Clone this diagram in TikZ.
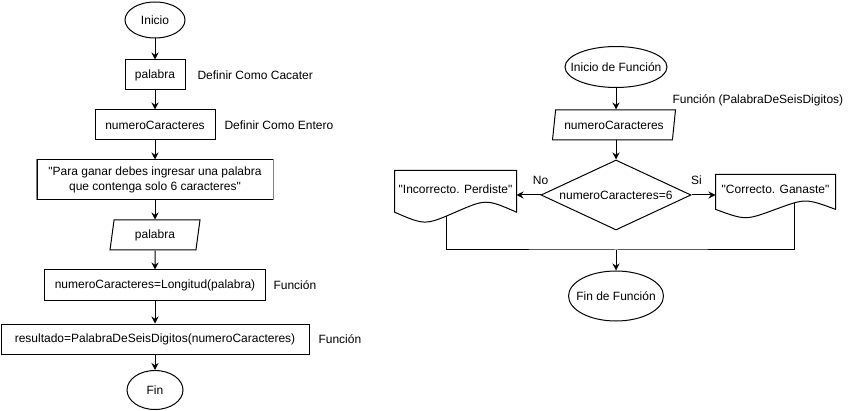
\documentclass[tikz,border=0pt]{standalone}
\usepackage{fontspec}
\setmainfont{Liberation Sans}[Ligatures=TeXOff]
\usetikzlibrary{arrows.meta,shapes.geometric,calc}

% outline of a document symbol drawn round a node, with two points on its wave
\newcommand{\docoutline}[1]{%
  \draw let \p1=(#1.north west), \p2=(#1.south east), \n1={\y1-\y2} in
    (\p1) -- (\x2,\y1) -- (\x2,{\y2+0.15*\n1})
    .. controls ({0.25*\x1+0.75*\x2},{\y2+0.42*\n1}) .. ({0.5*\x1+0.5*\x2},{\y2+0.15*\n1})
    coordinate[pos=0.72] (#1-r)
    .. controls ({0.75*\x1+0.25*\x2},{\y2-0.12*\n1}) .. (\x1,{\y2+0.15*\n1})
    coordinate[pos=0.11] (#1-l)
    -- cycle;}

\begin{document}
\begin{tikzpicture}[x=1pt, y=-1pt, line width=1pt,
  >={Stealth[length=7pt,width=7pt]},
  every node/.style={font=\fontsize{12}{15}\selectfont},
  term/.style={draw, ellipse, inner sep=0pt},
  proc/.style={draw, rectangle, minimum height=30pt, inner sep=3pt},
  io/.style={draw, trapezium, trapezium left angle=70, trapezium right angle=110,
    trapezium stretches body, minimum height=30pt, inner sep=0pt},
  decis/.style={draw, diamond, aspect=2.14, minimum width=150pt, minimum height=70pt, inner sep=0pt},
  doc/.style={rectangle, inner sep=0pt, text depth=12pt},
  note/.style={anchor=west, inner sep=0pt},
  elabel/.style={inner sep=0pt}]
  \useasboundingbox (0,0) rectangle (861,411);

  % main program
  \node[term, minimum width=60pt, minimum height=36pt] (ini) at (155,20) {Inicio};
  \node[proc, minimum width=60pt] (pal) at (155,75) {palabra};
  \node[note] (palnote) at (197,75) {Definir Como Cacater};
  \node[proc, minimum width=120pt] (num) at (155,125) {numeroCaracteres};
  \node[note] (numnote) at (224,125) {Definir Como Entero};
  \node[proc, minimum width=236pt, minimum height=40pt, align=center] (msg) at (155,180)
    {"Para ganar debes ingresar una palabra\\que contenga solo 6 caracteres"};
  \draw[gray, line width=1.5pt] (msg.north west) -- (msg.south west) (msg.north east) -- (msg.south east);
  \node[io, minimum width=90pt] (inp) at (155,235) {palabra};
  \node[proc, minimum width=221pt] (lon) at (155,285) {numeroCaracteres=Longitud(palabra)};
  \node[note] (lonnote) at (273,285) {Función};
  \node[proc, minimum width=308pt] (res) at (155,339) {resultado=PalabraDeSeisDigitos(numeroCaracteres)};
  \node[note] (resnote) at (318,339) {Función};
  \node[term, minimum width=56pt, minimum height=39pt] (fin) at (155,390) {Fin};

  \draw[->] (ini) -- (pal);
  \draw[->] (pal) -- (num);
  \draw[->] (num) -- (msg);
  \draw[->] (msg) -- (inp);
  \draw[->] (inp) -- (lon);
  \draw[->] (lon) -- (res);
  \draw[->] (res) -- (fin);

  % function
  \node[term, minimum width=102pt, minimum height=41pt] (ifun) at (616,67) {\makebox[0pt]{Inicio de Función}};
  \node[note] (funnote) at (672,100) {Función (PalabraDeSeisDigitos)};
  \node[io, minimum width=123pt] (pnum) at (614,125) {numeroCaracteres};
  \node[decis] (dec) at (616,195) {numeroCaracteres=6};
  \node[doc, minimum width=121pt, minimum height=48pt] (inc) at (455.5,195) {"Incorrecto. Perdiste"};
  \node[doc, minimum width=119pt, minimum height=40pt] (cor) at (775.5,195) {"Correcto. Ganaste"};
  \docoutline{inc}
  \docoutline{cor}
  \node[term, minimum width=95pt, minimum height=50pt] (ffun) at (616,296) {\makebox[0pt]{Fin de Función}};
  \coordinate (jn) at (616,250);

  \draw[->] (ifun) -- (ifun |- pnum.north);
  \draw[->] (pnum.south -| dec.north) -- (dec.north);
  \draw[->] (dec) -- node[elabel, at start, above=10pt] (nolab) {No} (inc);
  \draw[->] (dec) -- node[elabel, at start, above=10pt, xshift=5pt] (silab) {Si} (cor);
  \draw (inc-l) |- (jn) -| (cor-r);
  \draw[->] (jn) -- (ffun);
\end{tikzpicture}
\end{document}
